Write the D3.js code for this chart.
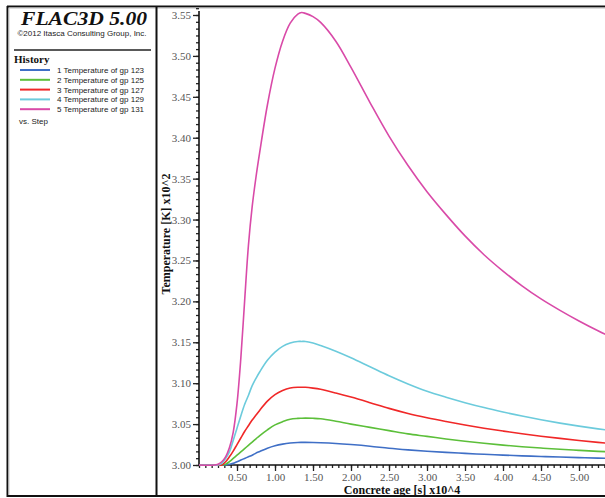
<!DOCTYPE html>
<html>
<head>
<meta charset="utf-8">
<script src="https://cdn.jsdelivr.net/npm/d3@7"></script>
<style>
  html, body { margin: 0; padding: 0; background: #fff; }
  svg { display: block; }
</style>
</head>
<body>
<svg id="chart" width="605" height="498"></svg>
<script>
// Concrete age (x10^4 s) at which each history was sampled
const ages = [0, 0.2, 0.25, 0.3, 0.35, 0.4, 0.45, 0.5, 0.55, 0.6, 0.65, 0.7, 0.75, 0.8, 0.9,
  1.0, 1.1, 1.2, 1.3, 1.35, 1.4, 1.5, 1.6, 1.8, 2.0, 2.25, 2.5, 2.75, 3.0, 3.25, 3.5,
  3.75, 4.0, 4.25, 4.5, 4.75, 5.0, 5.25, 5.5];

// Temperature histories (K x10^2) of the five grid points
const gp123 = [3.000, 3.000, 3.000, 3.000, 3.000, 3.001, 3.002, 3.004, 3.006, 3.008, 3.010, 3.012, 3.0145, 3.0165, 3.0205,
  3.0235, 3.0255, 3.0268, 3.0275, 3.0276, 3.0276, 3.0275, 3.0272, 3.0263, 3.0250, 3.023, 3.0205, 3.0185, 3.0168, 3.0154, 3.0142,
  3.0131, 3.0121, 3.0112, 3.0104, 3.0097, 3.0090, 3.0084, 3.0079];
const gp125 = [3.000, 3.000, 3.000, 3.000, 3.001, 3.004, 3.008, 3.012, 3.016, 3.020, 3.024, 3.028, 3.032, 3.036, 3.043,
  3.049, 3.053, 3.0560, 3.0570, 3.0572, 3.0573, 3.0571, 3.0565, 3.0535, 3.0500, 3.046, 3.042, 3.038, 3.0350, 3.0318, 3.0290,
  3.0265, 3.0243, 3.0224, 3.0207, 3.0192, 3.0179, 3.0167, 3.0157];
const gp127 = [3.000, 3.000, 3.000, 3.000, 3.004, 3.010, 3.017, 3.025, 3.033, 3.041, 3.048, 3.055, 3.061, 3.067, 3.078,
  3.086, 3.091, 3.094, 3.095, 3.095, 3.095, 3.094, 3.0925, 3.0880, 3.0830, 3.0762, 3.0692, 3.0630, 3.0578, 3.0532, 3.0489,
  3.0450, 3.0415, 3.0382, 3.0352, 3.0325, 3.0300, 3.0277, 3.0256];
const gp129 = [3.000, 3.000, 3.000, 3.002, 3.008, 3.016, 3.030, 3.045, 3.060, 3.074, 3.085, 3.097, 3.106, 3.114, 3.128,
  3.138, 3.145, 3.149, 3.151, 3.151, 3.151, 3.149, 3.146, 3.139, 3.131, 3.120, 3.109, 3.099, 3.0900, 3.0828, 3.0762,
  3.0702, 3.0648, 3.0598, 3.0553, 3.0512, 3.0475, 3.0442, 3.0412];
const gp131 = [3.000, 3.000, 3.001, 3.004, 3.010, 3.021, 3.040, 3.075, 3.130, 3.200, 3.268, 3.316, 3.352, 3.383, 3.440,
  3.485, 3.518, 3.540, 3.551, 3.553, 3.552, 3.548, 3.541, 3.518, 3.486, 3.443, 3.402, 3.366, 3.334, 3.306, 3.280,
  3.257, 3.237, 3.219, 3.203, 3.189, 3.176, 3.164, 3.153];

const seriesNames = ["1 Temperature of gp 123", "2 Temperature of gp 125", "3 Temperature of gp 127",
  "4 Temperature of gp 129", "5 Temperature of gp 131"];
const seriesValues = [gp123, gp125, gp127, gp129, gp131];
const seriesColors = ["#3f6fc6", "#5cbf3a", "#f02828", "#6ccbdc", "#d94aa8"];

// Axis tick labels
const xTicks = [0.5, 1.0, 1.5, 2.0, 2.5, 3.0, 3.5, 4.0, 4.5, 5.0];
const yTicks = [3.00, 3.05, 3.10, 3.15, 3.20, 3.25, 3.30, 3.35, 3.40, 3.45, 3.50, 3.55];

const svg = d3.select("#chart");
const serif = "'Liberation Serif', 'Times New Roman', serif";
const sans = "'Liberation Sans', Arial, sans-serif";

svg.append("rect").attr("width", 605).attr("height", 498).attr("fill", "#fff");

// Scales
const x = d3.scaleLinear().domain([0, 5]).range([199, 579]);
const y = d3.scaleLinear().domain([3.00, 3.55]).range([465, 15]);

// ---- Frame ----
const frame = svg.append("g");
frame.append("line").attr("x1", 7).attr("x2", 605).attr("y1", 6.5).attr("y2", 6.5)
  .attr("stroke", "#111").attr("stroke-width", 2);
frame.append("line").attr("x1", 8).attr("x2", 605).attr("y1", 8).attr("y2", 8)
  .attr("stroke", "#bbb").attr("stroke-width", 1);
frame.append("line").attr("x1", 7.5).attr("x2", 7.5).attr("y1", 6).attr("y2", 497)
  .attr("stroke", "#111").attr("stroke-width", 2);
frame.append("line").attr("x1", 9).attr("x2", 9).attr("y1", 8).attr("y2", 495)
  .attr("stroke", "#ccc").attr("stroke-width", 1);
frame.append("line").attr("x1", 7).attr("x2", 605).attr("y1", 496).attr("y2", 496)
  .attr("stroke", "#111").attr("stroke-width", 2);
frame.append("line").attr("x1", 156.5).attr("x2", 156.5).attr("y1", 7).attr("y2", 496)
  .attr("stroke", "#111").attr("stroke-width", 2);

// ---- Legend panel ----
const panel = svg.append("g");
panel.append("text").attr("x", 84).attr("y", 25).attr("text-anchor", "middle")
  .attr("font-family", serif).attr("font-weight", "bold").attr("font-style", "italic")
  .attr("font-size", 19).attr("textLength", 126).attr("lengthAdjust", "spacingAndGlyphs")
  .attr("fill", "#111").text("FLAC3D 5.00");
panel.append("text").attr("x", 82).attr("y", 36).attr("text-anchor", "middle")
  .attr("font-family", sans).attr("font-size", 8).attr("fill", "#222")
  .text("©2012 Itasca Consulting Group, Inc.");
panel.append("line").attr("x1", 14).attr("x2", 151).attr("y1", 50).attr("y2", 50)
  .attr("stroke", "#222").attr("stroke-width", 1.6);
panel.append("text").attr("x", 14).attr("y", 63)
  .attr("font-family", serif).attr("font-weight", "bold").attr("font-size", 11)
  .attr("fill", "#111").text("History");

const legendRows = panel.selectAll("g.entry").data(seriesNames).join("g")
  .attr("class", "entry")
  .attr("transform", (d, i) => `translate(0, ${70 + i * 9.8})`);
legendRows.append("line").attr("x1", 20).attr("x2", 50).attr("y1", 0).attr("y2", 0)
  .attr("stroke", (d, i) => seriesColors[i]).attr("stroke-width", 2);
legendRows.append("text").attr("x", 57).attr("y", 3)
  .attr("font-family", sans).attr("font-size", 8).attr("fill", "#222")
  .text(d => d);
panel.append("text").attr("x", 19).attr("y", 124)
  .attr("font-family", sans).attr("font-size", 8).attr("fill", "#222").text("vs. Step");

// ---- Axes ----
const yMinor = d3.range(3.00, 3.5601, 0.05 / 6);
const xMinor = d3.range(0, 5.51, 0.5 / 6);

svg.append("g").attr("transform", "translate(199,0)")
  .call(d3.axisLeft(y).tickValues(yMinor).tickSize(3).tickFormat(""))
  .call(g => g.select(".domain").remove())
  .call(g => g.selectAll("line").attr("stroke", "#222").attr("stroke-width", 1.3));
svg.append("g").attr("transform", "translate(199,0)")
  .call(d3.axisLeft(y).tickValues(yTicks).tickSize(6).tickPadding(2).tickFormat(d3.format(".2f")))
  .call(g => g.select(".domain").remove())
  .call(g => g.selectAll("line").attr("stroke", "#222").attr("stroke-width", 1.3))
  .call(g => g.selectAll("text").attr("font-family", serif).attr("font-size", 11).attr("fill", "#555"));

svg.append("g").attr("transform", "translate(0,465)")
  .call(d3.axisBottom(x).tickValues(xMinor).tickSize(3).tickFormat(""))
  .call(g => g.select(".domain").remove())
  .call(g => g.selectAll("line").attr("stroke", "#222").attr("stroke-width", 1.3));
svg.append("g").attr("transform", "translate(0,465)")
  .call(d3.axisBottom(x).tickValues(xTicks).tickSize(6).tickPadding(2).tickFormat(d3.format(".2f")))
  .call(g => g.select(".domain").remove())
  .call(g => g.selectAll("line").attr("stroke", "#222").attr("stroke-width", 1.3))
  .call(g => g.selectAll("text").attr("font-family", serif).attr("font-size", 11).attr("fill", "#555"));

// axis lines
svg.append("line").attr("x1", x(0)).attr("x2", x(0)).attr("y1", y(3.00)).attr("y2", 11)
  .attr("stroke", "#111").attr("stroke-width", 1.6);
svg.append("line").attr("x1", x(0)).attr("x2", 605).attr("y1", y(3.00)).attr("y2", y(3.00))
  .attr("stroke", "#111").attr("stroke-width", 1.6);

// axis titles
svg.append("text").attr("x", 402).attr("y", 494).attr("text-anchor", "middle")
  .attr("font-family", serif).attr("font-weight", "bold").attr("font-size", 12)
  .attr("fill", "#111").text("Concrete age [s] x10^4");
svg.append("text").attr("transform", "translate(170,234) rotate(-90)").attr("text-anchor", "middle")
  .attr("font-family", serif).attr("font-weight", "bold").attr("font-size", 12)
  .attr("fill", "#111").text("Temperature [K] x10^2");

// ---- History curves ----
svg.append("clipPath").attr("id", "plotClip")
  .append("rect").attr("x", x(0)).attr("y", 9).attr("width", 605 - x(0)).attr("height", y(3.00) - 9 + 1);

const line = d3.line()
  .x((d, i) => x(ages[i]))
  .y(d => y(d))
  .curve(d3.curveCatmullRom.alpha(0.5));

svg.append("g").attr("clip-path", "url(#plotClip)")
  .selectAll("path").data(seriesValues).join("path")
  .attr("d", d => line(d))
  .attr("fill", "none")
  .attr("stroke", (d, i) => seriesColors[i])
  .attr("stroke-width", 1.6)
  .attr("stroke-linejoin", "round");
</script>
</body>
</html>
